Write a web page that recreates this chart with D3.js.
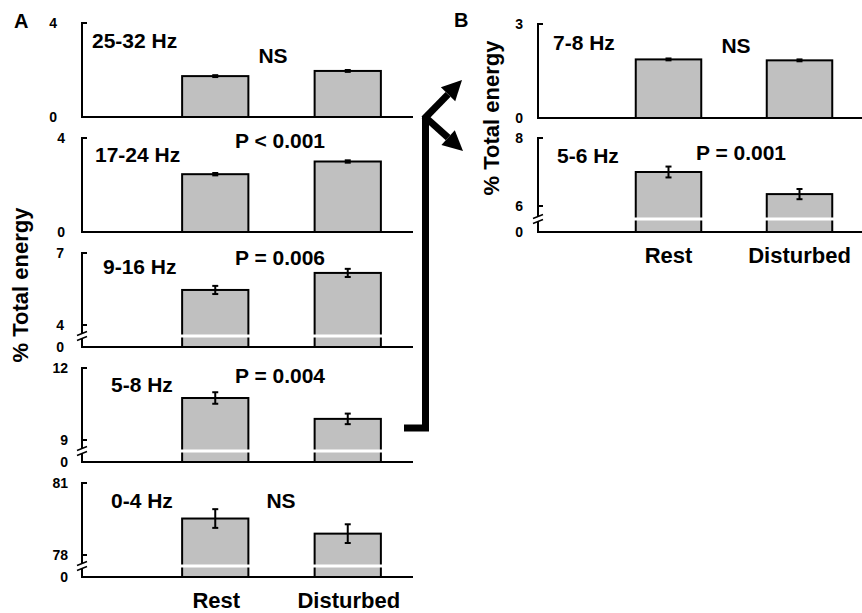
<!DOCTYPE html>
<html>
<head>
<meta charset="utf-8">
<script src="https://cdn.jsdelivr.net/npm/d3@7"></script>
<style>
  body { margin: 0; background: #fff; }
  text { font-family: "Liberation Sans", Arial, sans-serif; font-weight: bold; fill: #000; }
</style>
</head>
<body>
<div id="chart"></div>
<script>
// Data
const groups = ["Rest", "Disturbed"];

// Panel A
const bandsA = ["25-32 Hz", "17-24 Hz", "9-16 Hz", "5-8 Hz", "0-4 Hz"];
const restMeanA = [1.74, 2.46, 5.46, 10.75, 79.52];
const restErrA = [0.04, 0.05, 0.17, 0.24, 0.39];
const distMeanA = [1.96, 3.0, 6.17, 9.88, 78.89];
const distErrA = [0.04, 0.05, 0.17, 0.22, 0.39];
const statsA = ["NS", "P < 0.001", "P = 0.006", "P = 0.004", "NS"];
const yMaxA = [4, 4, 7, 12, 81];
const yLowA = [null, null, 4, 9, 78]; // first tick above the axis break

// Panel B
const bandsB = ["7-8 Hz", "5-6 Hz"];
const restMeanB = [1.87, 7.0];
const restErrB = [0.03, 0.16];
const distMeanB = [1.84, 6.35];
const distErrB = [0.03, 0.15];
const statsB = ["NS", "P = 0.001"];
const yMaxB = [3, 8];
const yLowB = [null, 6];

const width = 862, height = 613;
const svg = d3.select("#chart").append("svg")
  .attr("width", width)
  .attr("height", height);

// layout of each small panel
const layoutA = [
  { base: 117, tickX: 57, bandX: 92, bandDy: 69, statX: 273, statDy: 54 },
  { base: 232, tickX: 65, bandX: 95, bandDy: 70, statX: 280, statDy: 84 },
  { base: 347, tickX: 64, bandX: 103, bandDy: 73, statX: 280, statDy: 82 },
  { base: 462, tickX: 68, bandX: 111, bandDy: 70, statX: 280, statDy: 79 },
  { base: 577, tickX: 68, bandX: 111, bandDy: 69, statX: 281, statDy: 69 }
];
const layoutB = [
  { base: 118, tickX: 523, bandX: 553, bandDy: 68, statX: 736, statDy: 65 },
  { base: 232, tickX: 523, bandX: 557, bandDy: 69, statX: 741, statDy: 72 }
];

function drawPanel(p, lay, frame) {
  const g = svg.append("g");
  const base = lay.base;
  const topY = base - 94;
  const hasBreak = p.low !== null;
  const lowY = base - frame.lowGap;
  const breakY = base - frame.lowGap / 2;

  const y = hasBreak
    ? d3.scaleLinear().domain([p.low, p.max]).range([lowY, topY])
    : d3.scaleLinear().domain([0, p.max]).range([base, topY]);

  const x = d3.scaleBand()
    .domain(groups)
    .range(frame.xRange)
    .paddingInner(0.5)
    .paddingOuter(0.25);

  const vals = [
    { g: "Rest", v: p.rest, e: p.restErr },
    { g: "Disturbed", v: p.dist, e: p.distErr }
  ];

  // bars
  g.selectAll("rect.bar")
    .data(vals)
    .join("rect")
    .attr("class", "bar")
    .attr("x", d => x(d.g))
    .attr("y", d => y(d.v))
    .attr("width", x.bandwidth())
    .attr("height", d => base - y(d.v))
    .attr("fill", "#c0c0c0")
    .attr("stroke", "#000")
    .attr("stroke-width", 2);

  // white break across bars
  if (hasBreak) {
    g.selectAll("rect.gap")
      .data(vals)
      .join("rect")
      .attr("x", d => x(d.g) - 2)
      .attr("y", breakY - 1.5)
      .attr("width", x.bandwidth() + 4)
      .attr("height", 3)
      .attr("fill", "#fff");
  }

  // error bars
  const eb = g.selectAll("g.err")
    .data(vals)
    .join("g")
    .attr("stroke", "#000")
    .attr("stroke-width", 2);
  eb.append("line")
    .attr("x1", d => x(d.g) + x.bandwidth() / 2)
    .attr("x2", d => x(d.g) + x.bandwidth() / 2)
    .attr("y1", d => y(d.v - d.e))
    .attr("y2", d => y(d.v + d.e));
  [1, -1].forEach(s => {
    eb.append("line")
      .attr("x1", d => x(d.g) + x.bandwidth() / 2 - 3)
      .attr("x2", d => x(d.g) + x.bandwidth() / 2 + 3)
      .attr("y1", d => y(d.v + s * d.e))
      .attr("y2", d => y(d.v + s * d.e));
  });

  // y axis
  const ax = frame.axisX;
  const axis = g.append("g").attr("stroke", "#000").attr("stroke-width", 2).attr("fill", "none");
  if (hasBreak) {
    axis.append("path").attr("d", `M${ax + 5},${topY}H${ax}V${breakY - 3}`);
    axis.append("path").attr("d", `M${ax},${breakY + 3}V${base}`);
    axis.append("line").attr("x1", ax).attr("x2", ax + 5).attr("y1", lowY).attr("y2", lowY);
    [-2.5, 2.5].forEach(o => {
      axis.append("line")
        .attr("x1", ax - 5).attr("y1", breakY + o + 2)
        .attr("x2", ax + 5).attr("y2", breakY + o - 2)
        .attr("stroke-width", 1.5);
    });
  } else {
    axis.append("path").attr("d", `M${ax + 5},${topY}H${ax}V${base}`);
  }
  // x axis line
  axis.append("line")
    .attr("x1", ax - 1).attr("x2", frame.axisEnd)
    .attr("y1", base).attr("y2", base);

  // tick labels
  const ticks = [{ t: p.max, y: topY }, { t: 0, y: base }];
  if (hasBreak) ticks.push({ t: p.low, y: lowY });
  g.selectAll("text.tick")
    .data(ticks)
    .join("text")
    .attr("x", lay.tickX)
    .attr("y", d => d.y)
    .attr("dy", "0.36em")
    .attr("text-anchor", "end")
    .style("font-size", "14px")
    .text(d => d.t);

  // band & stats labels
  g.append("text")
    .attr("x", lay.bandX)
    .attr("y", base - lay.bandDy)
    .style("font-size", "21px")
    .text(p.band);
  g.append("text")
    .attr("x", lay.statX)
    .attr("y", base - lay.statDy)
    .attr("text-anchor", "middle")
    .style("font-size", "21px")
    .text(p.stat);

  return x;
}

const frameA = { axisX: 82, axisEnd: 413, xRange: [149, 414], lowGap: 22 };
const frameB = { axisX: 538, axisEnd: 862, xRange: [603, 865], lowGap: 26 };

let xA, xB;
bandsA.forEach((b, i) => {
  xA = drawPanel({
    band: b, stat: statsA[i], max: yMaxA[i], low: yLowA[i],
    rest: restMeanA[i], restErr: restErrA[i], dist: distMeanA[i], distErr: distErrA[i]
  }, layoutA[i], frameA);
});
bandsB.forEach((b, i) => {
  xB = drawPanel({
    band: b, stat: statsB[i], max: yMaxB[i], low: yLowB[i],
    rest: restMeanB[i], restErr: restErrB[i], dist: distMeanB[i], distErr: distErrB[i]
  }, layoutB[i], frameB);
});

// group labels
svg.selectAll("text.grpA")
  .data(groups)
  .join("text")
  .attr("x", d => xA(d) + xA.bandwidth() / 2 + 1)
  .attr("y", 608)
  .attr("text-anchor", "middle")
  .style("font-size", "22px")
  .text(d => d);
svg.selectAll("text.grpB")
  .data(groups)
  .join("text")
  .attr("x", d => xB(d) + xB.bandwidth() / 2)
  .attr("y", 263)
  .attr("text-anchor", "middle")
  .style("font-size", "22px")
  .text(d => d);

// axis titles
svg.append("text")
  .attr("transform", "translate(28,285) rotate(-90)")
  .attr("text-anchor", "middle")
  .style("font-size", "22px")
  .text("% Total energy");
svg.append("text")
  .attr("transform", "translate(499,118) rotate(-90)")
  .attr("text-anchor", "middle")
  .style("font-size", "22px")
  .text("% Total energy");

// panel letters
svg.append("text").attr("x", 14).attr("y", 28).style("font-size", "20px").text("A");
svg.append("text").attr("x", 454).attr("y", 27).style("font-size", "20px").text("B");

// connecting arrow from 5-8 Hz to panel B
const arrow = svg.append("g");
arrow.append("path")
  .attr("d", "M404,428H425.5V116")
  .attr("fill", "none")
  .attr("stroke", "#000")
  .attr("stroke-width", 7)
  .attr("stroke-linejoin", "miter");

function arrowHead(x0, y0, x1, y1) {
  const a = Math.atan2(y1 - y0, x1 - x0);
  const len = 20, half = 10;
  const bx = x1 - len * Math.cos(a), by = y1 - len * Math.sin(a);
  arrow.append("line")
    .attr("x1", x0).attr("y1", y0).attr("x2", bx).attr("y2", by)
    .attr("stroke", "#000").attr("stroke-width", 7);
  arrow.append("path")
    .attr("d", `M${x1},${y1}L${bx + half * Math.sin(a)},${by - half * Math.cos(a)}L${bx - half * Math.sin(a)},${by + half * Math.cos(a)}Z`)
    .attr("fill", "#000");
}
arrowHead(424, 119, 462, 80);
arrowHead(424, 116, 463, 151);
</script>
</body>
</html>
